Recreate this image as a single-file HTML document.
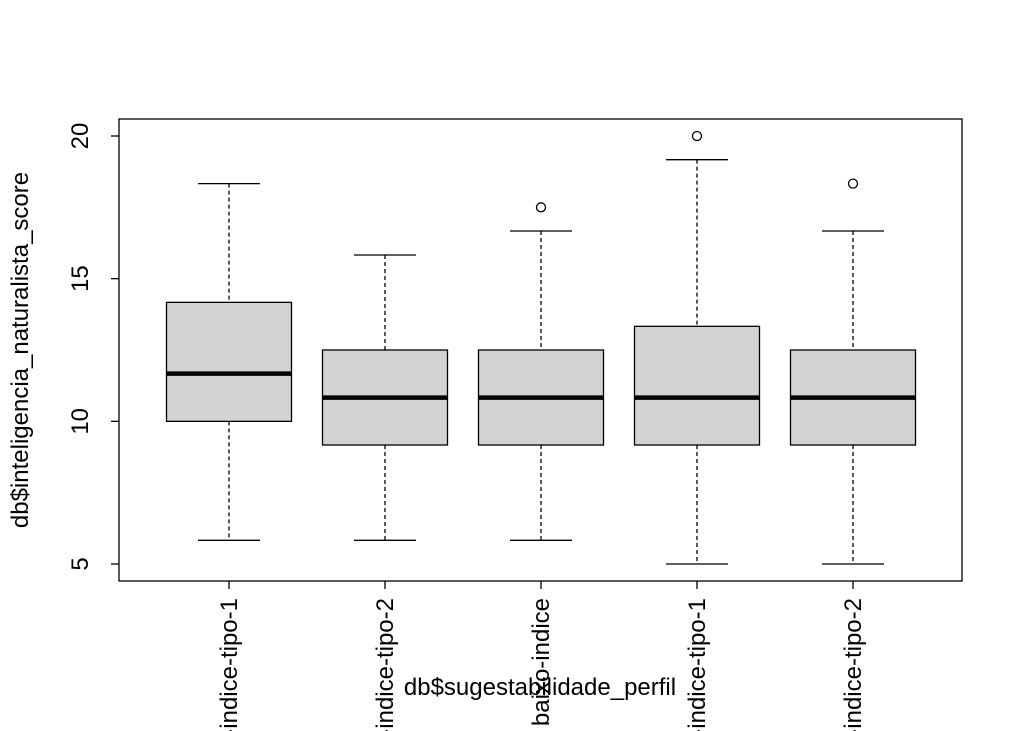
<!DOCTYPE html>
<html><head><meta charset="utf-8"><style>
html,body{margin:0;padding:0;background:#fff;overflow:hidden;width:1024px;height:731px;}
svg{display:block;font-family:"Liberation Sans",Arial,sans-serif;}
</style></head><body>
<svg id="chart" width="1024" height="731" xmlns="http://www.w3.org/2000/svg"></svg>
<script>
const categories=["alto-indice-tipo-1","alto-indice-tipo-2","baixo-indice","medio-indice-tipo-1","medio-indice-tipo-2"];
const lowWhisker=[5.83,5.83,5.83,5,5];
const q1=[10,9.17,9.17,9.17,9.17];
const medians=[11.67,10.83,10.83,10.83,10.83];
const q3=[14.17,12.5,12.5,13.33,12.5];
const highWhisker=[18.33,15.83,16.67,19.17,16.67];
const outliers=[[],[],[17.5],[20],[18.33]];
const yTicks=[5,10,15,20];

const NS="http://www.w3.org/2000/svg";
const svg=document.getElementById('chart');
const L=119,R=962,T=119,B=581;
function y(v){return 564-(v-5)*(428/15);}
function x(i){return 229+i*156;}
const hw=62.5;
function el(tag,attrs,parent){const e=document.createElementNS(NS,tag);for(const k in attrs)e.setAttribute(k,attrs[k]);(parent||svg).appendChild(e);return e;}

categories.forEach((c,i)=>{
  const g=el('g',{});
  
  
  const cx=x(i);
  el('line',{x1:cx,x2:cx,y1:y(highWhisker[i]),y2:y(q3[i]),stroke:'#000','stroke-width':1.3,'stroke-dasharray':'4,3'},g);
  el('line',{x1:cx,x2:cx,y1:y(q1[i]),y2:y(lowWhisker[i]),stroke:'#000','stroke-width':1.3,'stroke-dasharray':'4,3'},g);
  el('line',{x1:cx-31,x2:cx+31,y1:y(highWhisker[i]),y2:y(highWhisker[i]),stroke:'#000','stroke-width':1.3},g);
  el('line',{x1:cx-31,x2:cx+31,y1:y(lowWhisker[i]),y2:y(lowWhisker[i]),stroke:'#000','stroke-width':1.3},g);
  el('rect',{x:cx-hw,y:y(q3[i]),width:2*hw,height:y(q1[i])-y(q3[i]),fill:'#d3d3d3',stroke:'#000','stroke-width':1.3},g);
  el('line',{x1:cx-hw,x2:cx+hw,y1:y(medians[i]),y2:y(medians[i]),stroke:'#000','stroke-width':4.5},g);
  outliers[i].forEach(v=>{
    const o=el('circle',{cx:cx,cy:y(v),r:4.5,fill:'none',stroke:'#000','stroke-width':1.3},g);
    
    
  });
  el('line',{x1:cx,x2:cx,y1:B,y2:B+8,stroke:'#000','stroke-width':1.3});
  const t=el('text',{transform:`translate(${cx+8},598) rotate(-90)`,'text-anchor':'end','font-size':24},svg);
  t.textContent=c;
  
  
});
el('rect',{x:L,y:T,width:R-L,height:B-T,fill:'none',stroke:'#000','stroke-width':1.3});
yTicks.forEach(v=>{
  el('line',{x1:L-8,x2:L,y1:y(v),y2:y(v),stroke:'#000','stroke-width':1.3});
  const t=el('text',{transform:`translate(${L-31},${y(v)}) rotate(-90)`,'text-anchor':'middle','font-size':24});
  t.textContent=v;
  
  
});
const xt=el('text',{x:540,y:695,'text-anchor':'middle','font-size':24});
xt.textContent='db$sugestabilidade_perfil';


const yt=el('text',{transform:'translate(28,350) rotate(-90)','text-anchor':'middle','font-size':24});
yt.textContent='db$inteligencia_naturalista_score';


</script>
</body></html>
